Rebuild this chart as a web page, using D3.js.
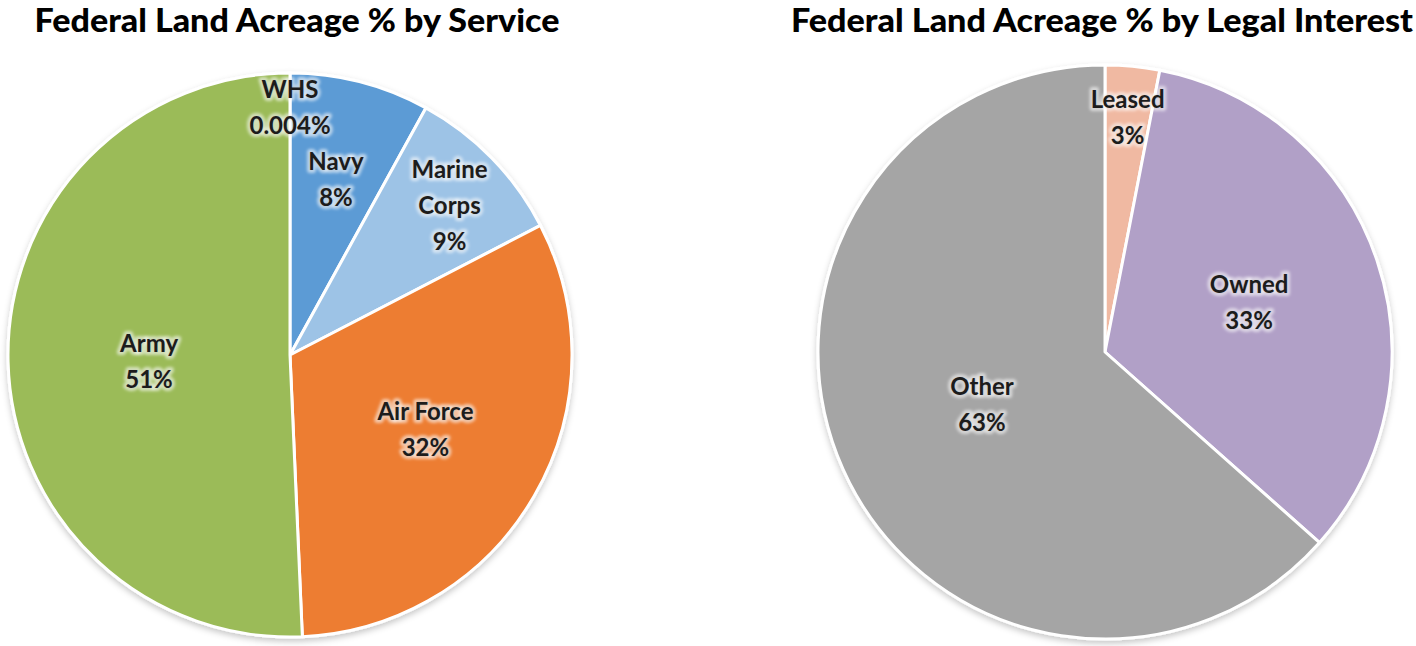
<!DOCTYPE html>
<html>
<head>
<meta charset="utf-8">
<script src="https://cdn.jsdelivr.net/npm/d3@7"></script>
<style>
  html, body { margin: 0; padding: 0; background: #fff; }
  svg { display: block; }
  .title { font-family: Lato, 'Open Sans', sans-serif; font-weight: 900; fill: #000; }
  .slice-label { font-family: Lato, 'Open Sans', sans-serif; font-weight: 700; fill: #1c1c1c; }
</style>
</head>
<body>
<svg id="chart" width="1416" height="646"></svg>
<script>
// Two pies: federal land acreage share by service and by legal interest.

var serviceNames  = ['WHS', 'Navy', 'Marine Corps', 'Air Force', 'Army'];
var serviceValues = [0.004, 8.0, 9.4, 31.9, 50.7];
var serviceLabels = ['0.004%', '8%', '9%', '32%', '51%'];

var interestNames  = ['Leased', 'Owned', 'Other'];
var interestValues = [3.06, 33.5, 63.44];
var interestLabels = ['3%', '33%', '63%'];

var svg = d3.select('#chart');

var defs = svg.append('defs');
var shadow = defs.append('filter').attr('id', 'pie-shadow')
    .attr('x', '-10%').attr('y', '-10%').attr('width', '120%').attr('height', '125%');
shadow.append('feDropShadow')
    .attr('dx', 0).attr('dy', 3).attr('stdDeviation', 3)
    .attr('flood-color', '#000').attr('flood-opacity', 0.22);

var glow = defs.append('filter').attr('id', 'label-glow')
    .attr('x', '-20%').attr('y', '-40%').attr('width', '140%').attr('height', '180%');
glow.append('feGaussianBlur').attr('stdDeviation', 1.8);

// label placement as fraction of radius (mimics Excel "best fit")
var pies = [
    {
        title: 'Federal Land Acreage % by Service',
        titleX: 297, titleW: 525,
        cx: 290, cy: 355, r: 282,
        names: serviceNames, values: serviceValues, labels: serviceLabels,
        colors: ['#7f6aa8', '#5b9bd5', '#9dc3e6', '#ed7d31', '#9bbb59'],
        splitName: { 'Marine Corps': ['Marine', 'Corps'] },
        labelR: [0.87, 0.655, 0.79, 0.555, 0.5],
        dy: [-2, 4, 6, -3, 4]
    },
    {
        title: 'Federal Land Acreage % by Legal Interest',
        titleX: 1102, titleW: 622,
        cx: 1105, cy: 352, r: 287,
        names: interestNames, values: interestValues, labels: interestLabels,
        colors: ['#f0b9a2', '#b1a0c7', '#a5a5a5'],
        splitName: {},
        labelR: [0.82, 0.53, 0.47],
        dy: [0, 0, -2]
    }
];

pies.forEach(function (p) {
    svg.append('text').attr('class', 'title')
        .attr('x', p.titleX).attr('y', 32)
        .attr('text-anchor', 'middle')
        .attr('font-size', 33)
        .attr('textLength', p.titleW)
        .attr('lengthAdjust', 'spacingAndGlyphs')
        .text(p.title);

    var data = p.names.map(function (n, i) { return { name: n, value: p.values[i], i: i }; });
    var pie = d3.pie().sort(null).value(function (d) { return d.value; });
    var arcs = pie(data);
    var arc = d3.arc().innerRadius(0).outerRadius(p.r);

    var g = svg.append('g').attr('transform', 'translate(' + p.cx + ',' + p.cy + ')');
    g.append('g').attr('filter', 'url(#pie-shadow)')
        .selectAll('path').data(arcs).enter().append('path')
        .attr('d', arc)
        .attr('fill', function (d) { return p.colors[d.data.i]; })
        .attr('stroke', '#fff')
        .attr('stroke-width', 3)
        .attr('stroke-linejoin', 'round');

    var lineH = 36;
    arcs.forEach(function (a) {
        var i = a.data.i;
        var lines = (p.splitName[a.data.name] || [a.data.name]).concat([p.labels[i]]);
        var mid = (a.startAngle + a.endAngle) / 2;
        var rr = p.r * p.labelR[i];
        var x = rr * Math.sin(mid);
        var y = -rr * Math.cos(mid) + p.dy[i];
        var y0 = y - (lines.length - 1) * lineH / 2 + 8;
        var lg = g.append('g');
        // soft glow behind the text, like Excel's label glow
        var halo = lg.append('text').attr('class', 'slice-label')
            .attr('text-anchor', 'middle').attr('font-size', 24)
            .attr('filter', 'url(#label-glow)')
            .attr('stroke', '#fff').attr('stroke-width', 6).attr('stroke-opacity', 0.6)
            .attr('fill', '#fff').attr('fill-opacity', 0.5)
            .attr('stroke-linejoin', 'round');
        var txt = lg.append('text').attr('class', 'slice-label')
            .attr('text-anchor', 'middle').attr('font-size', 24);
        lines.forEach(function (s, k) {
            halo.append('tspan').attr('x', x).attr('y', y0 + k * lineH).text(s);
            txt.append('tspan').attr('x', x).attr('y', y0 + k * lineH).text(s);
        });
    });
});
</script>
</body>
</html>
